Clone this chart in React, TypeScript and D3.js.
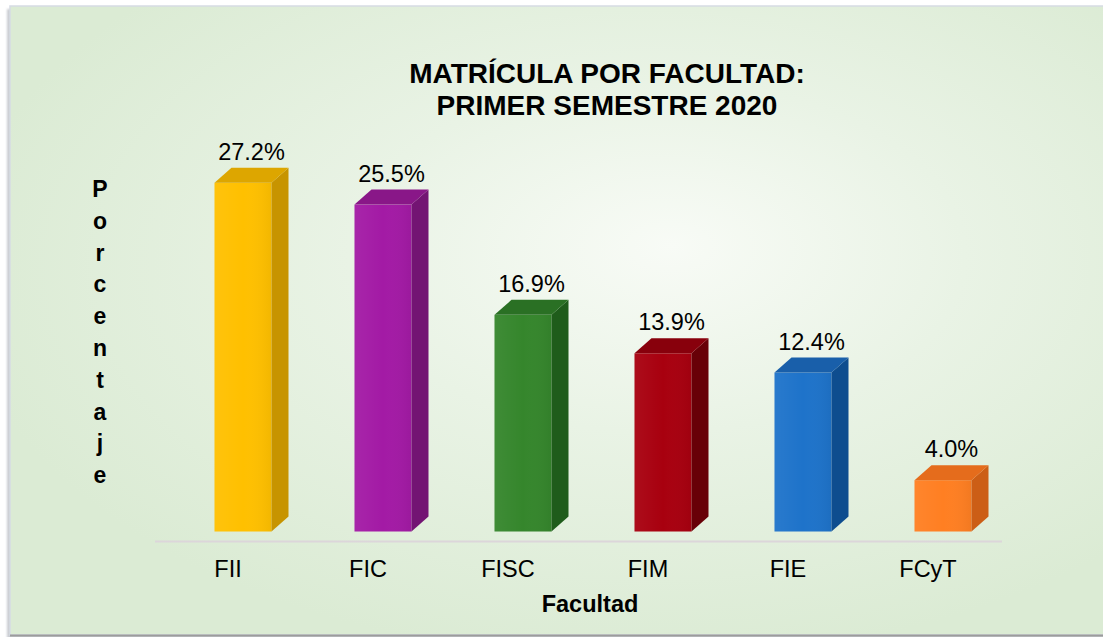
import React from "react";
import * as d3 from "d3";

const categories = ["FII", "FIC", "FISC", "FIM", "FIE", "FCyT"];
const values = [27.2, 25.5, 16.9, 13.9, 12.4, 4.0];
const valueLabels = ["27.2%", "25.5%", "16.9%", "13.9%", "12.4%", "4.0%"];
const frontColors = ["#FFC000", "#A31AA5", "#35862C", "#A8000F", "#1E73CA", "#FF7F22"];
const sideColors = ["#C79400", "#731473", "#1F5C1B", "#680007", "#0E4D8F", "#CC5E16"];
const topColors = ["#DDA600", "#891788", "#2A7024", "#88000C", "#195FAA", "#E56C1C"];
const titleLines = ["MATRÍCULA POR FACULTAD:", "PRIMER SEMESTRE 2020"];
const yTitle = "Porcentaje";
const xTitle = "Facultad";

const W = 1103;
const H = 637;
const FONT = "'Liberation Sans', Arial, sans-serif";

export default function App() {
  const x = d3.scaleBand<string>().domain(categories).range([158, 998]);
  const y = d3.scaleLinear().domain([0, 30]).range([531.5, 146.9]);
  const barW = 57;
  const dx = 17;
  const dy = 15;
  const letters = yTitle.split("");

  return (
    <svg
      width={W}
      height={H}
      style={{ position: "absolute", left: 0, top: 0, display: "block" }}
      fontFamily={FONT}
    >
      <defs>
        <radialGradient id="bg" cx="0.57" cy="0.42" r="0.62" fx="0.6" fy="0.38">
          <stop offset="0" stopColor="#f8fbf6" />
          <stop offset="0.45" stopColor="#e9f3e5" />
          <stop offset="1" stopColor="#dbebd4" />
        </radialGradient>
        <linearGradient id="fg" x1="0" x2="1" y1="0" y2="0">
          <stop offset="0" stopColor="#ffffff" stopOpacity="0.05" />
          <stop offset="0.5" stopColor="#ffffff" stopOpacity="0" />
          <stop offset="1" stopColor="#000000" stopOpacity="0.05" />
        </linearGradient>
        <filter id="sh" x="-5%" y="-5%" width="110%" height="110%">
          <feGaussianBlur stdDeviation="1.2" />
        </filter>
      </defs>
      <rect x={0} y={0} width={W} height={H} fill="#ffffff" />
      <rect x={7} y={9} width={W} height={H} fill="#c9ccd2" filter="url(#sh)" />
      <rect x={10} y={6} width={W} height={629} fill="url(#bg)" stroke="#d6dbe4" strokeWidth={1.5} />
      <line x1={10} x2={W} y1={635.5} y2={635.5} stroke="#9c9c9c" strokeWidth={2} />

      {titleLines.map((t, i) => (
        <text
          key={t}
          x={607}
          y={83 + i * 32}
          textAnchor="middle"
          fontSize={28}
          fontWeight="bold"
          fill="#000"
        >
          {t}
        </text>
      ))}

      {letters.map((c, i) => (
        <text
          key={i}
          x={100}
          y={197 + i * 31.8}
          textAnchor="middle"
          fontSize={23}
          fontWeight="bold"
          fill="#000"
        >
          {c}
        </text>
      ))}

      <line x1={155} x2={1002} y1={541.5} y2={541.5} stroke="#dcd6da" strokeWidth={2} />

      {categories.map((c, i) => {
        const cx = (x(c) as number) + x.bandwidth() / 2;
        const x0 = cx + 15 - barW / 2;
        const x1 = x0 + barW;
        const yt = y(values[i]);
        const yb = y(0);
        const top = `M${x0},${yt} L${x1},${yt} L${x1 + dx},${yt - dy} L${x0 + dx},${yt - dy} Z`;
        const side = `M${x1},${yt} L${x1 + dx},${yt - dy} L${x1 + dx},${yb - dy} L${x1},${yb} Z`;
        return (
          <g key={c}>
            <rect x={x0} y={yt} width={barW} height={yb - yt} fill={frontColors[i]} />
            <rect x={x0} y={yt} width={barW} height={yb - yt} fill="url(#fg)" />
            <path d={side} fill={sideColors[i]} />
            <path d={top} fill={topColors[i]} />
            <text
              x={cx + 15 + dx / 2}
              y={yt - dy - 8}
              textAnchor="middle"
              fontSize={23.5}
              fill="#000"
            >
              {valueLabels[i]}
            </text>
            <text x={cx} y={577} textAnchor="middle" fontSize={23.5} fill="#000">
              {c}
            </text>
          </g>
        );
      })}

      <text x={590} y={612} textAnchor="middle" fontSize={23.5} fontWeight="bold" fill="#000">
        {xTitle}
      </text>
    </svg>
  );
}
